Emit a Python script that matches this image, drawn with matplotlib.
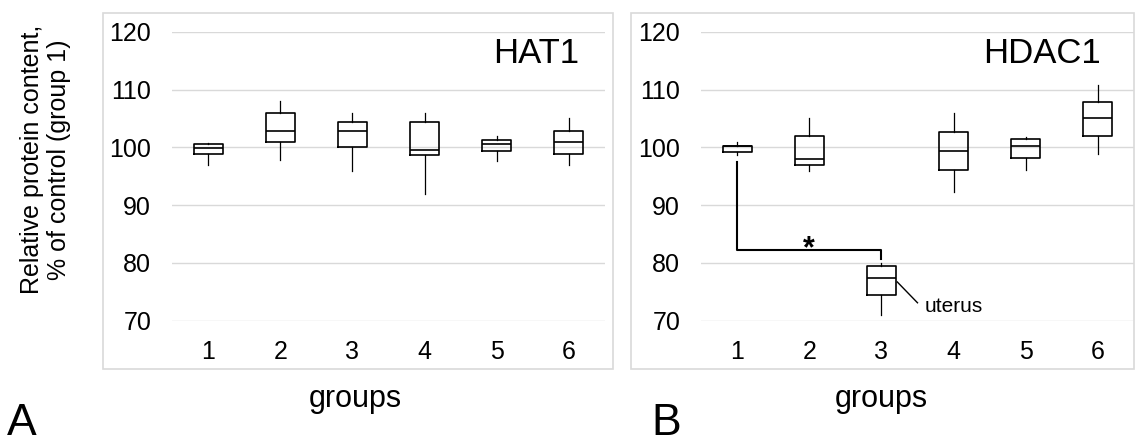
import matplotlib.pyplot as plt
from matplotlib.patches import Rectangle

plt.rcParams['font.family'] = ['Liberation Sans', 'DejaVu Sans']

groups = [1, 2, 3, 4, 5, 6]

# HAT1 box stats
hat_whislo = [96.9, 97.8, 95.9, 91.9, 97.6, 96.9]
hat_q1 = [98.8, 100.9, 100.1, 98.6, 99.3, 98.9]
hat_med = [99.8, 102.9, 102.8, 99.6, 100.5, 100.9]
hat_q3 = [100.5, 105.9, 104.4, 104.3, 101.2, 102.9]
hat_whishi = [100.8, 108.0, 105.9, 105.9, 101.9, 105.0]

# HDAC1 box stats
hdac_whislo = [98.6, 95.9, 71.0, 92.3, 96.0, 98.8]
hdac_q1 = [99.2, 96.9, 74.4, 96.0, 98.2, 101.9]
hdac_med = [100.2, 97.9, 77.4, 99.4, 100.2, 105.0]
hdac_q3 = [100.2, 102.0, 79.5, 102.7, 101.4, 107.9]
hdac_whishi = [101.0, 105.0, 79.9, 105.9, 101.8, 110.8]

yticks = [70, 80, 90, 100, 110, 120]

fig = plt.figure(figsize=(11.35, 4.44), dpi=100)

# light grey frames around each panel
for x0, x1 in [(103, 613), (631, 1134)]:
    fig.patches.append(Rectangle((x0 / 1135, 1 - 369 / 444), (x1 - x0) / 1135, (369 - 13) / 444,
                                 transform=fig.transFigure, fill=False, ec='#d9d9d9', lw=1.2))


def panel(ax, lo, q1, med, q3, hi, title, title_x):
    stats = [dict(whislo=a, q1=b, med=c, q3=d, whishi=e)
             for a, b, c, d, e in zip(lo, q1, med, q3, hi)]
    ax.bxp(stats, positions=groups, widths=0.4, showfliers=False, showcaps=False,
           boxprops=dict(color='black', lw=1.2),
           medianprops=dict(color='black', lw=1.2),
           whiskerprops=dict(color='black', lw=0.9))
    ax.set_xlim(0.5, 6.5)
    ax.set_ylim(70, 120)
    ax.set_yticks(yticks)
    ax.set_xticks(groups)
    ax.set_xticklabels([str(g) for g in groups])
    ax.grid(axis='y', color='#d9d9d9', lw=1)
    ax.set_axisbelow(True)
    for s in ax.spines.values():
        s.set_visible(False)
    ax.tick_params(axis='y', length=0, pad=15, labelsize=18)
    ax.tick_params(axis='x', length=0, pad=14, labelsize=18)
    ax.text(title_x, 0.893, title, transform=ax.transAxes, ha='right', va='baseline', fontsize=25)
    ax.set_xlabel('groups', fontsize=22)


axA = fig.add_axes([172 / 1135, 1 - 320.7 / 444, 433 / 1135, 289 / 444])
axB = fig.add_axes([701 / 1135, 1 - 320.7 / 444, 433 / 1135, 289 / 444])
panel(axA, hat_whislo, hat_q1, hat_med, hat_q3, hat_whishi, 'HAT1', 0.94)
panel(axB, hdac_whislo, hdac_q1, hdac_med, hdac_q3, hdac_whishi, 'HDAC1', 0.924)
axA.xaxis.set_label_coords(183 / 433, -0.22)
axB.xaxis.set_label_coords(180 / 433, -0.22)

# significance bracket group 1 vs group 3
axB.plot([1, 1, 3, 3], [97.4, 82.3, 82.3, 80.6], color='black', lw=1.5)
axB.text(2, 81.0, '*', ha='center', va='baseline', fontsize=22, fontweight='bold')

# uterus note
axB.plot([3.22, 3.5], [76.7, 73.1], color='black', lw=1)
axB.text(3.6, 72.4, 'uterus', ha='left', va='center', fontsize=15)

fig.text(0.04, 0.64, 'Relative protein content,\n% of control (group 1)', rotation=90,
         ha='center', va='center', fontsize=18, linespacing=1.15)
fig.text(7 / 1135, 0.0, 'A', fontsize=32, ha='left', va='bottom')
fig.text(651 / 1135, 0.0, 'B', fontsize=32, ha='left', va='bottom')

fig.savefig('out.png', dpi=100)
